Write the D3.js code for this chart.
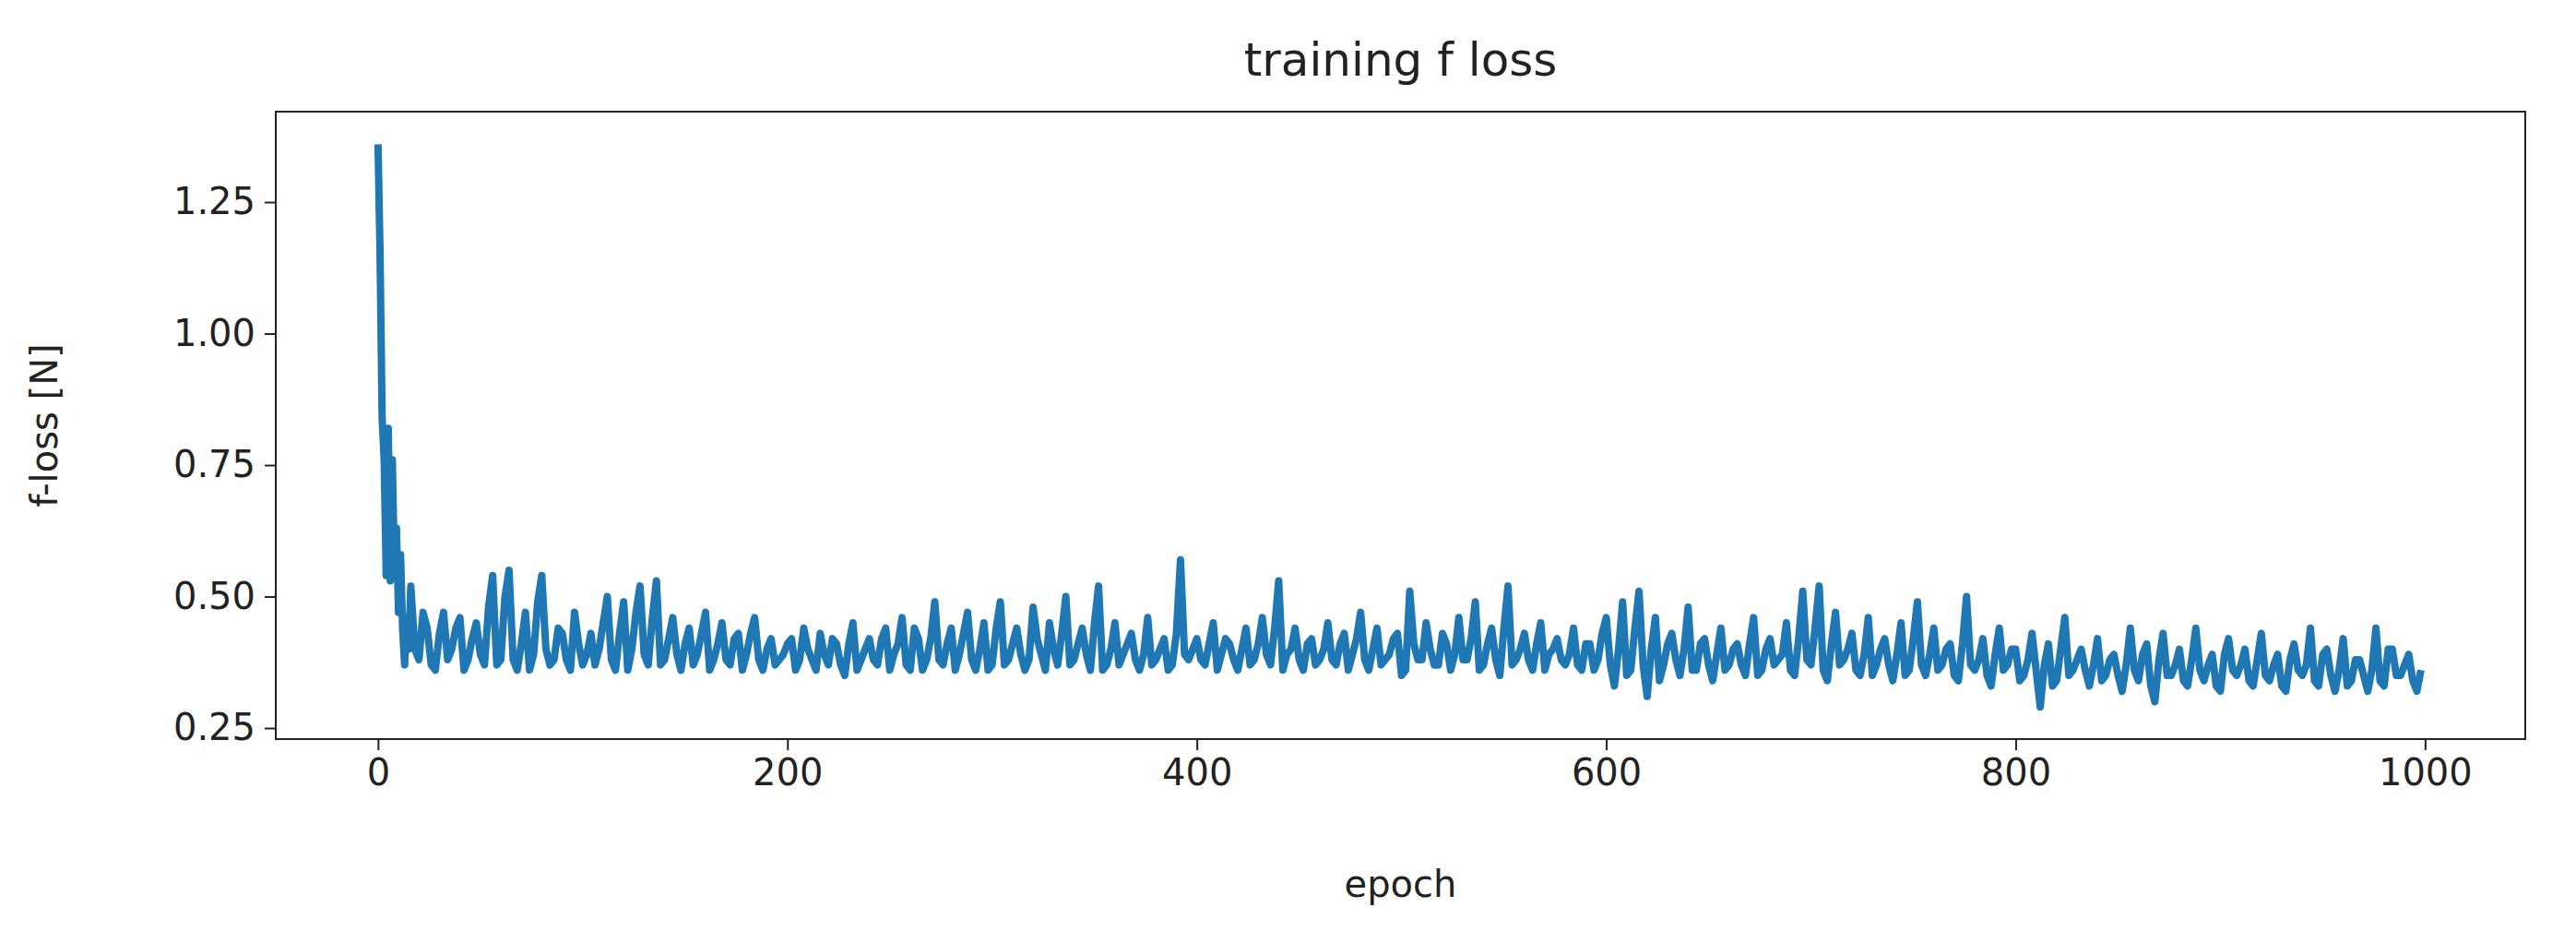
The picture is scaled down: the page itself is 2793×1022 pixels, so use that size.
<!DOCTYPE html>
<html>
<head>
<meta charset="utf-8">
<script src="https://cdn.jsdelivr.net/npm/d3@7"></script>
<style>
  body { margin: 0; background: #fff; }
  text { font-family: "DejaVu Sans", sans-serif; fill: #222; }
</style>
</head>
<body>
<div id="chart"></div>
<script>
// Early epochs (read one by one)
const earlyEpochs = [0, 1, 2, 3, 4, 5, 6, 7, 8, 9, 10, 11, 12, 13, 14, 15];
const earlyLoss = [1.36, 1.15, 0.84, 0.76, 0.54, 0.82, 0.53, 0.76, 0.55, 0.63, 0.47, 0.58, 0.44, 0.37, 0.46, 0.40];

// Every 4th epoch from 16 to 996 (read approximately)
const laterLoss = [
  0.52, 0.38, 0.44, 0.36, 0.47, 0.40, 0.46, 0.38, 0.45, 0.37, 0.54, 0.38, 0.55, 0.36, 0.47, 0.39,
  0.54, 0.37, 0.44, 0.38, 0.47, 0.37, 0.43, 0.40, 0.50, 0.36, 0.49, 0.40, 0.52, 0.37, 0.53, 0.38,
  0.46, 0.36, 0.44, 0.39, 0.47, 0.38, 0.45, 0.37, 0.43, 0.39, 0.46, 0.36, 0.42, 0.38, 0.41, 0.36,
  0.44, 0.38, 0.43, 0.37, 0.41, 0.35, 0.45, 0.38, 0.42, 0.37, 0.44, 0.39, 0.46, 0.36, 0.42, 0.38,
  0.49, 0.37, 0.44, 0.39, 0.47, 0.36, 0.45, 0.37, 0.49, 0.38, 0.44, 0.36, 0.48, 0.39, 0.45, 0.37,
  0.50, 0.38, 0.44, 0.36, 0.52, 0.37, 0.45, 0.39, 0.43, 0.36, 0.46, 0.38, 0.42, 0.37, 0.57, 0.38,
  0.42, 0.37, 0.45, 0.39, 0.41, 0.36, 0.44, 0.38, 0.46, 0.37, 0.53, 0.39, 0.44, 0.36, 0.42, 0.38,
  0.45, 0.37, 0.43, 0.39, 0.47, 0.36, 0.44, 0.38, 0.42, 0.35, 0.51, 0.38, 0.45, 0.37, 0.43, 0.36,
  0.46, 0.38, 0.49, 0.37, 0.44, 0.35, 0.52, 0.38, 0.43, 0.36, 0.45, 0.39, 0.42, 0.37, 0.44, 0.36,
  0.41, 0.38, 0.46, 0.33, 0.49, 0.36, 0.51, 0.31, 0.46, 0.37, 0.43, 0.35, 0.48, 0.36, 0.42, 0.34,
  0.44, 0.37, 0.41, 0.35, 0.46, 0.36, 0.42, 0.38, 0.45, 0.35, 0.51, 0.37, 0.52, 0.34, 0.47, 0.38,
  0.43, 0.35, 0.46, 0.37, 0.42, 0.34, 0.45, 0.36, 0.49, 0.35, 0.44, 0.37, 0.41, 0.34, 0.50, 0.36,
  0.42, 0.33, 0.44, 0.37, 0.40, 0.35, 0.43, 0.29, 0.41, 0.34, 0.46, 0.36, 0.40, 0.33, 0.42, 0.35,
  0.39, 0.32, 0.44, 0.34, 0.41, 0.30, 0.43, 0.35, 0.40, 0.33, 0.44, 0.34, 0.39, 0.32, 0.42, 0.35,
  0.40, 0.33, 0.43, 0.34, 0.39, 0.32, 0.41, 0.35, 0.44, 0.33, 0.40, 0.32, 0.42, 0.34, 0.38, 0.32,
  0.44, 0.33, 0.40, 0.35, 0.39, 0.32
];

// Epochs in between, 18 to 998 every 4th (read approximately)
const betweenLoss = [
  0.40, 0.47, 0.37, 0.43, 0.38, 0.44, 0.36, 0.42, 0.39, 0.48, 0.37, 0.50, 0.38, 0.41, 0.36, 0.49,
  0.40, 0.38, 0.43, 0.36, 0.41, 0.39, 0.37, 0.45, 0.38, 0.43, 0.36, 0.47, 0.39, 0.46, 0.37, 0.42,
  0.39, 0.41, 0.37, 0.43, 0.36, 0.41, 0.38, 0.42, 0.36, 0.43, 0.38, 0.40, 0.37, 0.39, 0.42, 0.38,
  0.40, 0.36, 0.39, 0.42, 0.37, 0.41, 0.36, 0.40, 0.38, 0.42, 0.36, 0.41, 0.37, 0.44, 0.36, 0.42,
  0.38, 0.41, 0.36, 0.43, 0.38, 0.40, 0.36, 0.44, 0.37, 0.41, 0.39, 0.38, 0.42, 0.36, 0.40, 0.43,
  0.37, 0.41, 0.39, 0.45, 0.36, 0.40, 0.37, 0.41, 0.38, 0.39, 0.37, 0.40, 0.36, 0.43, 0.39, 0.40,
  0.38, 0.41, 0.36, 0.42, 0.38, 0.40, 0.37, 0.41, 0.39, 0.44, 0.36, 0.40, 0.38, 0.41, 0.37, 0.40,
  0.38, 0.41, 0.36, 0.42, 0.38, 0.40, 0.37, 0.39, 0.43, 0.36, 0.41, 0.38, 0.40, 0.37, 0.41, 0.39,
  0.38, 0.42, 0.36, 0.41, 0.38, 0.44, 0.37, 0.40, 0.38, 0.41, 0.36, 0.40, 0.38, 0.39, 0.37, 0.41,
  0.36, 0.43, 0.37, 0.40, 0.35, 0.44, 0.37, 0.40, 0.34, 0.41, 0.38, 0.40, 0.36, 0.41, 0.37, 0.39,
  0.36, 0.40, 0.37, 0.41, 0.35, 0.40, 0.37, 0.39, 0.36, 0.42, 0.38, 0.44, 0.36, 0.41, 0.37, 0.40,
  0.36, 0.39, 0.35, 0.40, 0.37, 0.39, 0.35, 0.42, 0.37, 0.39, 0.36, 0.40, 0.35, 0.41, 0.37, 0.38,
  0.35, 0.39, 0.36, 0.40, 0.34, 0.38, 0.36, 0.37, 0.33, 0.40, 0.35, 0.38, 0.36, 0.37, 0.34, 0.38,
  0.35, 0.37, 0.36, 0.39, 0.33, 0.38, 0.35, 0.37, 0.34, 0.38, 0.36, 0.37, 0.33, 0.39, 0.36, 0.37,
  0.34, 0.38, 0.35, 0.37, 0.33, 0.38, 0.36, 0.37, 0.34, 0.39, 0.35, 0.36, 0.33, 0.38, 0.35, 0.36,
  0.34, 0.40, 0.35, 0.37, 0.34, 0.36
];

const xTicks = [0, 200, 400, 600, 800, 1000];
const yTicks = [0.25, 0.50, 0.75, 1.00, 1.25];

const points = earlyEpochs.map((e, i) => [e, earlyLoss[i]])
  .concat(laterLoss.map((v, i) => [16 + i * 4, v]))
  .concat(betweenLoss.map((v, i) => [18 + i * 4, v]))
  .sort((a, b) => a[0] - b[0]);

const W = 2793, H = 1022;
const margin = { top: 121, right: 55, bottom: 221, left: 299 };
const width = W - margin.left - margin.right;
const height = H - margin.top - margin.bottom;

const svg = d3.select("#chart").append("svg")
  .attr("width", W).attr("height", H);
const g = svg.append("g")
  .attr("transform", `translate(${margin.left},${margin.top})`);

const x = d3.scaleLinear().domain([-49.95, 1048.95]).range([0, width]);
const y = d3.scaleLinear().domain([0.229, 1.422]).range([height, 0]);

// Line
g.append("path")
  .datum(points)
  .attr("fill", "none")
  .attr("stroke", "#1f77b4")
  .attr("stroke-width", 8)
  .attr("stroke-linejoin", "round")
  .attr("d", d3.line().x(d => x(d[0])).y(d => y(d[1])));

// Axes
const xAxis = g.append("g")
  .attr("transform", `translate(0,${height})`)
  .call(d3.axisBottom(x).tickValues(xTicks).tickSize(12).tickPadding(10).tickFormat(d3.format("d")));
const yAxis = g.append("g")
  .call(d3.axisLeft(y).tickValues(yTicks).tickSize(12).tickPadding(10).tickFormat(d3.format(".2f")));
[xAxis, yAxis].forEach(a => {
  a.select(".domain").remove();
  a.selectAll(".tick line").attr("stroke", "#222").attr("stroke-width", 2);
  a.selectAll(".tick text").attr("font-size", 40).attr("fill", "#222");
});

// Frame
g.append("rect")
  .attr("width", width).attr("height", height)
  .attr("fill", "none").attr("stroke", "#222").attr("stroke-width", 2);

// Labels
svg.append("text")
  .attr("x", margin.left + width / 2).attr("y", 82)
  .attr("text-anchor", "middle").attr("font-size", 50)
  .text("training f loss");
svg.append("text")
  .attr("x", margin.left + width / 2).attr("y", 972)
  .attr("text-anchor", "middle").attr("font-size", 40)
  .text("epoch");
svg.append("text")
  .attr("transform", `translate(62,${margin.top + height / 2}) rotate(-90)`)
  .attr("text-anchor", "middle").attr("font-size", 40)
  .text("f-loss [N]");
</script>
</body>
</html>
